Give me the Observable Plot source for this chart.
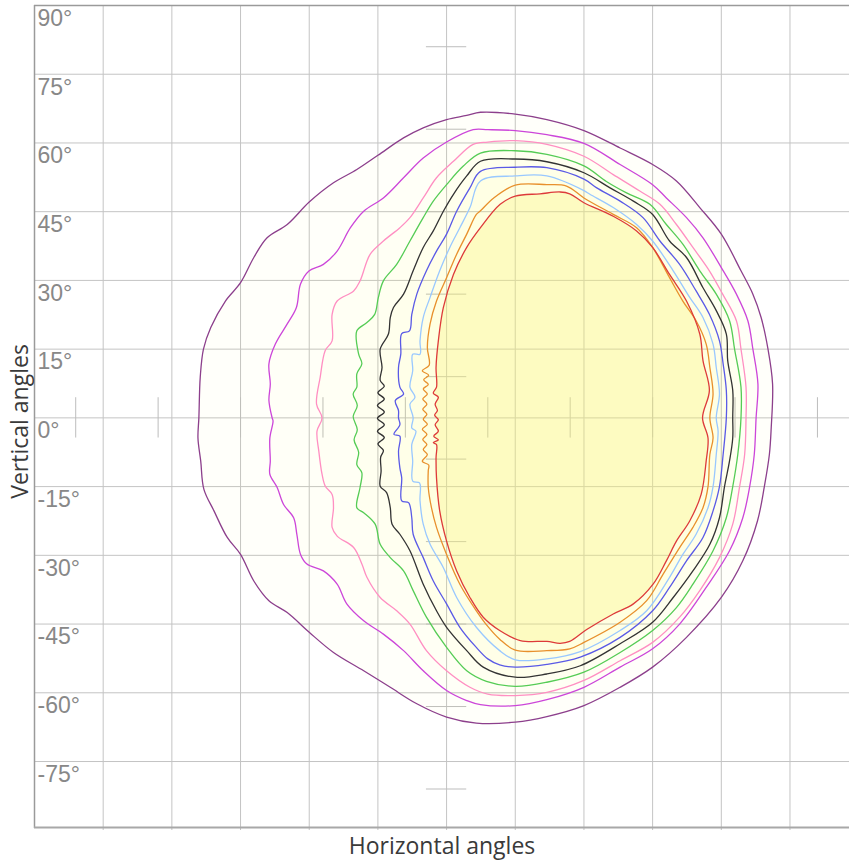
<!DOCTYPE html>
<html><head><meta charset="utf-8">
<script src="https://cdn.jsdelivr.net/npm/d3@7"></script>
<script src="https://cdn.jsdelivr.net/npm/@observablehq/plot@0.6"></script>
<style>body{margin:0;background:#fff;overflow:hidden}</style>
</head><body><div id="chart"></div>
<script>
// Axis ticks / grid
const yTickLabels = [90,75,60,45,30,15,0,-15,-30,-45,-60,-75];
const yGrid = [75,60,45,30,15,0,-15,-30,-45,-60,-75];
const xGrid = [-75,-60,-45,-30,-15,0,15,30,45,60,75];
const crossTicks = [-81,-63,-45,-27,-9,9,27,45,63,81];

// Isolines [horizontal angle, vertical angle], outermost first
const isoPurple = [[4.4,66.0],[0,65.1],[-5.1,63.3],[-9.4,61.1],[-15.0,57.3],[-19.6,54.2],[-24.7,51.3],[-30.0,47.1],[-34.8,42.2],[-39.2,39.3],[-42.1,35.0],[-45.0,29.5],[-48.3,25.5],[-51.5,19.7],[-53.1,15.0],[-53.8,8.9],[-54.1,0],
[-54.3,-4.4],[-53.7,-9.4],[-53.0,-15.6],[-50.8,-20.3],[-47.9,-26.1],[-45.0,-29.8],[-42.1,-35.6],[-38.8,-39.9],[-34.8,-42.5],[-30.0,-46.8],[-24.7,-51.2],[-18.1,-55.2],[-12.3,-58.8],[-6.5,-62.4],[0,-65.3],[6.5,-66.6],
[15.0,-66.4],[21.9,-65.2],[30.0,-62.8],[37.9,-58.8],[45.0,-54.4],[52.4,-47.9],[60.0,-39.2],[64.7,-31.2],[67.9,-22.5],[69.4,-15.0],[70.5,-8.0],[70.9,-2.2],
[71.2,7.4],[70.2,15.0],[68.7,21.9],[66.9,27.0],[64.3,32.1],[60.0,40.1],[55.3,45.9],[50.2,51.7],[45.0,55.3],[37.9,58.9],[30.0,62.7],[21.9,65.1],[15.0,66.3],[7.4,66.7]];

const isoMagenta = [[5.8,62.9],[0,60.2],[-5.1,56.7],[-9.4,52.4],[-13.8,48.0],[-18.1,45.1],[-21.0,41.5],[-23.9,36.4],[-26.9,33.5],[-30.0,32.1],[-31.9,29.2],[-32.8,24.1],[-34.8,20.5],[-37.4,16.1],[-38.8,11.8],[-38.5,7.4],[-38.8,3.8],[-38.1,0],
[-37.9,-0.7],[-38.6,-4.4],[-38.5,-9.4],[-38.6,-12.3],[-37.0,-15.2],[-35.6,-18.9],[-33.4,-21.8],[-32.7,-25.4],[-31.9,-29.8],[-30.5,-31.9],[-26.9,-33.4],[-23.9,-36.3],[-21.8,-40.6],[-18.1,-44.3],[-13.8,-47.2],[-9.4,-50.8],[-5.1,-55.2],[0,-59.5],[4.4,-61.7],
[7.4,-62.6],[15.0,-62.8],[21.9,-61.5],[30.0,-58.8],[37.9,-54.4],[45.0,-50.4],[50.9,-45.0],[56.7,-37.0],[61.8,-29.0],[64.7,-21.8],[66.2,-15.0],[67.2,-8.0],[67.6,0],
[68.0,7.4],[66.9,15.0],[65.8,21.2],[63.3,27.0],[60.0,32.8],[56.0,39.3],[52.4,43.7],[48.0,48.0],[45.0,50.9],[37.9,55.3],[30.0,59.9],[21.9,61.8],[15.0,62.7],[9.0,62.9]];

const isoPink = [[5.8,59.7],[1.5,56.0],[-2.2,52.4],[-5.1,48.0],[-8.0,43.7],[-10.2,41.5],[-13.8,38.6],[-16.7,35.7],[-18.9,29.9],[-20.3,27.7],[-23.9,25.5],[-25.0,22.6],[-25.0,16.8],[-26.5,14.7],[-27.6,8.9],[-28.4,3.0],[-27.2,0],
[-28.3,-2.9],[-27.9,-7.3],[-27.2,-12.3],[-26.5,-14.9],[-25.0,-16.7],[-24.7,-19.6],[-25.0,-23.9],[-23.9,-25.8],[-20.3,-28.3],[-18.5,-31.9],[-17.4,-34.8],[-14.5,-39.2],[-10.9,-42.1],[-8.0,-45.0],[-4.4,-50.8],[0,-55.2],[5.1,-58.8],
[9.0,-60.3],[15.0,-60.6],[21.9,-59.9],[30.0,-57.3],[37.9,-53.0],[45.0,-49.0],[50.9,-43.5],[55.3,-37.7],[59.6,-30.5],[62.5,-23.2],[64.0,-15.0],[65.1,-8.0],[65.4,0],
[65.4,6.7],[64.3,15.0],[63.3,21.2],[60.3,27.0],[57.4,32.1],[53.8,37.2],[50.2,42.2],[46.6,46.6],[42.2,49.5],[36.4,53.1],[30.0,57.1],[21.9,59.7],[15.0,60.5],[9.0,60.2]];

const isoGreen = [[3.6,54.9],[0,50.9],[-2.9,47.3],[-5.1,43.7],[-8.0,38.6],[-10.9,33.5],[-13.8,29.9],[-14.9,26.3],[-15.7,22.6],[-17.4,20.8],[-19.6,19.0],[-19.2,13.9],[-18.5,11.8],[-19.6,9.6],[-19.6,6.7],[-20.4,5.2],[-19.5,2.7],[-20.4,0.3],
[-19.5,-2.6],[-20.2,-4.8],[-19.2,-7.5],[-19.6,-10.2],[-18.5,-12.0],[-18.9,-15.2],[-19.6,-19.6],[-18.1,-20.7],[-15.6,-23.2],[-14.5,-27.6],[-12.3,-30.5],[-9.4,-33.4],[-7.3,-37.7],[-4.4,-43.5],[0,-50.1],[4.4,-55.2],
[8.7,-57.5],[15.0,-58.6],[21.9,-57.7],[30.0,-55.5],[37.9,-51.2],[45.0,-46.4],[50.2,-41.4],[53.8,-36.3],[58.2,-29.0],[61.1,-21.8],[62.5,-15.0],[63.6,-8.0],[64.3,0],
[64.3,6.7],[62.9,15.0],[61.8,21.2],[58.9,27.0],[55.3,32.1],[51.6,37.9],[48.0,42.2],[44.4,46.6],[39.3,49.1],[34.9,51.6],[30.0,55.0],[21.9,57.5],[15.0,58.3],[7.4,57.8]];

const isoBlack = [[4.4,52.8],[1.5,48.8],[-0.7,45.1],[-2.9,40.8],[-5.1,37.2],[-7.3,32.1],[-9.4,27.0],[-11.6,24.1],[-12.3,21.9],[-12.7,18.3],[-14.5,15.0],[-14.1,11.0],[-14.5,8.2],[-13.6,6.9],[-15.0,5.5],[-13.6,4.1],[-15.1,2.7],[-13.6,1.3],[-15.1,-0.1],
[-13.6,-1.5],[-15.1,-2.9],[-13.6,-4.3],[-15.0,-5.7],[-13.8,-7.1],[-14.4,-8.6],[-14.3,-11.6],[-14.5,-14.9],[-13.1,-16.3],[-12.3,-19.6],[-11.9,-23.2],[-10.2,-25.4],[-8.0,-29.0],[-5.1,-36.3],[-2.2,-42.1],[0,-45.7],[4.4,-50.8],[8.0,-54.4],
[15.0,-56.6],[21.9,-55.9],[29.2,-54.1],[37.9,-49.3],[45.0,-44.6],[49.5,-39.2],[53.8,-33.4],[57.5,-27.6],[59.6,-21.8],[60.7,-15.0],[61.8,-9.4],[62.5,-4.4],[62.5,0],
[62.5,6.0],[61.4,12.5],[61.1,18.3],[58.9,23.4],[56.0,28.4],[52.4,35.0],[48.7,38.6],[45.0,44.4],[40.8,47.3],[35.7,50.2],[30.0,53.5],[21.9,55.9],[15.0,56.5],[7.4,56.0]];

const isoBlue = [[5.1,50.2],[2.2,45.1],[0,40.1],[-2.2,36.4],[-4.4,32.1],[-6.5,27.0],[-7.6,22.6],[-8.1,19.0],[-9.8,18.4],[-10.0,13.9],[-10.5,11.0],[-10.2,6.7],[-9.4,5.2],[-11.2,3.8],[-10.5,1.6],[-10.5,0],
[-10.2,-1.5],[-11.5,-3.6],[-10.2,-4.0],[-10.5,-7.3],[-10.2,-10.9],[-9.8,-13.1],[-9.8,-18.1],[-8.3,-18.5],[-7.6,-21.8],[-7.3,-25.4],[-5.1,-30.5],[-2.9,-35.6],[0,-40.6],[2.9,-45.7],[6.5,-50.1],
[9.0,-52.6],[11.6,-53.9],[15.0,-54.4],[21.9,-53.8],[29.2,-52.2],[37.9,-47.9],[45.0,-42.1],[48.7,-37.0],[52.4,-31.2],[56.0,-26.1],[58.2,-20.3],[59.6,-15.0],[60.4,-8.0],[61.1,0],
[61.1,6.0],[60.4,11.8],[59.6,16.8],[57.4,22.6],[54.5,27.7],[50.9,33.5],[46.6,38.6],[42.9,43.7],[37.9,47.3],[32.8,50.2],[30.0,52.1],[21.9,54.6],[15.0,54.7],[7.4,53.8]];

const isoLightBlue = [[5.1,45.9],[2.9,41.5],[0.7,37.2],[-1.5,32.1],[-3.6,26.3],[-5.1,21.9],[-5.8,16.8],[-5.8,13.9],[-7.4,13.9],[-7.4,10.3],[-8.0,6.7],[-6.9,4.5],[-8.0,3.0],[-7.3,0],
[-7.6,-2.2],[-6.7,-2.9],[-7.6,-5.8],[-7.4,-9.4],[-7.4,-13.8],[-5.9,-14.2],[-5.8,-18.1],[-5.1,-23.2],[-3.6,-27.6],[-0.7,-32.7],[2.2,-39.2],[6.5,-45.7],[11.6,-50.8],
[15.0,-52.8],[21.9,-52.6],[29.2,-51.0],[37.9,-46.4],[43.7,-42.1],[48.7,-34.8],[51.6,-29.8],[54.5,-25.4],[57.1,-19.6],[58.2,-15.0],[58.9,-8.0],[59.3,-2.9],[58.9,0],
[59.6,5.2],[58.9,11.0],[58.2,16.1],[56.0,21.9],[53.1,26.3],[49.5,32.1],[45.0,38.6],[41.5,42.2],[36.4,45.9],[31.3,48.8],[30.0,49.6],[21.9,52.8],[15.0,52.8],[7.4,51.7]];

const isoOrange = [[6.5,44.4],[4.4,40.1],[2.2,35.7],[0,30.6],[-2.2,25.5],[-3.6,20.5],[-4.2,15.4],[-3.8,11.5],[-5.3,10.3],[-3.9,9.3],[-5.0,8.3],[-4.0,7.3],[-5.1,6.3],[-4.2,5.2],[-5.2,4.1],[-4.3,3.0],[-5.2,1.9],[-4.3,0.8],[-5.1,-0.3],
[-4.2,-1.4],[-5.3,-2.5],[-4.3,-3.6],[-5.2,-4.7],[-4.3,-5.8],[-5.1,-6.9],[-4.2,-8.0],[-5.3,-9.5],[-3.9,-10.3],[-4.0,-11.5],[-4.0,-15.2],[-3.3,-19.6],[-2.2,-23.9],[0,-29.8],[2.9,-36.3],[6.5,-42.1],
[9.0,-45.5],[11.6,-48.3],[15.0,-50.7],[21.9,-50.8],[26.9,-50.4],[30.0,-49.0],[37.9,-44.6],[43.7,-39.9],[47.3,-34.1],[50.9,-28.3],[53.8,-23.9],[56.0,-19.6],[57.1,-15.0],[57.5,-8.0],[58.2,-4.4],[57.5,0],
[58.2,5.2],[57.5,11.0],[56.7,16.1],[54.5,21.2],[51.6,25.5],[48.7,30.6],[45.0,37.2],[41.5,41.5],[36.4,44.4],[30.0,48.0],[26.2,50.6],[21.9,50.9],[15.0,50.8],[10.3,48.0],[7.4,45.2]];

const isoRed = [[4.4,37.2],[1.5,31.3],[-0.7,24.1],[-1.8,16.8],[-2.3,11.0],[-2.2,6.7],[-2.9,5.4],[-1.8,4.5],[-2.5,3.0],[-2.0,1.6],[-2.6,0.6],[-1.8,-0.4],[-2.5,-1.5],[-1.8,-2.9],[-2.8,-4.0],[-1.8,-4.8],[-2.9,-5.4],[-2.2,-5.8],[-2.3,-8.7],[-2.2,-13.1],[-1.5,-20.3],[0,-26.9],[2.2,-33.4],[5.1,-39.2],[8.0,-43.5],[11.6,-46.4],
[16.1,-48.6],[21.9,-48.8],[24.8,-49.2],[26.9,-48.8],[30.6,-46.2],[36.4,-42.8],[40.8,-40.6],[45.1,-36.3],[48.0,-31.2],[50.2,-26.9],[53.1,-22.5],[55.6,-16.7],[56.7,-9.4],[57.1,-4.4],[55.9,0],
[57.4,6.0],[56.0,12.5],[55.3,18.3],[52.4,25.5],[48.7,31.3],[45.0,37.2],[41.5,40.8],[36.4,44.0],[29.9,47.0],[26.9,48.9],[24.8,49.3],[20.4,48.9],[15.0,48.4],[11.7,46.6],[7.4,41.5]];

const isolines = [isoPurple, isoMagenta, isoPink, isoGreen, isoBlack, isoBlue, isoLightBlue, isoOrange, isoRed];
const strokeColors = ["#8c3f8c","#cc46d9","#ff8fc2","#55cc55","#333333","#5a5ae6","#99c8ff","#e8902c","#dd3a3a"];
const fillOpacities = [0.035,0.02,0.025,0.03,0.03,0.03,0.03,0.04,0.30];

const yMin = -89.4;
const fillMarks = isolines.map((pts, i) => Plot.line(pts, {x: d => d[0], y: d => d[1], curve: "catmull-rom-closed", fill: "#faf37c", fillOpacity: fillOpacities[i], stroke: "none"}));
const strokeMarks = isolines.map((pts, i) => Plot.line(pts, {x: d => d[0], y: d => d[1], curve: "catmull-rom-closed", stroke: strokeColors[i], strokeWidth: 1.3}));

const chart = Plot.plot({
  width: 849, height: 868,
  marginLeft: 34, marginRight: 0, marginTop: 5, marginBottom: 41,
  x: {domain: [-90, 88], axis: null},
  y: {domain: [yMin, 90], axis: null},
  style: {background: "#fff", overflow: "hidden"},
  marks: [
    Plot.ruleX(xGrid, {stroke: "#c4c4c4", strokeWidth: 1, insetBottom: -3}),
    Plot.ruleY(yGrid, {stroke: "#c4c4c4", strokeWidth: 1}),
    Plot.ruleX(crossTicks, {y1: -4.4, y2: 4.4, stroke: "#bdbdbd", strokeWidth: 1}),
    Plot.ruleY(crossTicks, {x1: -4.4, x2: 4.4, stroke: "#bdbdbd", strokeWidth: 1}),
    ...fillMarks,
    ...strokeMarks,
    Plot.ruleX([-90], {stroke: "#9a9a9a", strokeWidth: 1.5, insetBottom: -1}),
    Plot.ruleY([90], {stroke: "#9a9a9a", strokeWidth: 1.5}),
    Plot.ruleY([yMin], {stroke: "#a8a8a8", strokeWidth: 2}),
    Plot.text(yTickLabels, {x: -90, y: d => d, text: d => d + "°", textAnchor: "start", lineAnchor: "top", dx: 3, dy: 4, fontSize: 23, fill: "#888", fontFamily: "Liberation Sans, Arial, sans-serif"}),
    Plot.text(["Horizontal angles"], {frameAnchor: "bottom", textAnchor: "middle", dy: 26, fontSize: 23, fill: "#3a3a3a", fontFamily: "Open Sans, sans-serif"}),
    Plot.text(["Vertical angles"], {frameAnchor: "left", textAnchor: "middle", dx: -14, dy: 5, rotate: -90, fontSize: 23, fill: "#3a3a3a", fontFamily: "Open Sans, sans-serif"})
  ]
});
document.getElementById("chart").appendChild(chart);
</script>
</body></html>
